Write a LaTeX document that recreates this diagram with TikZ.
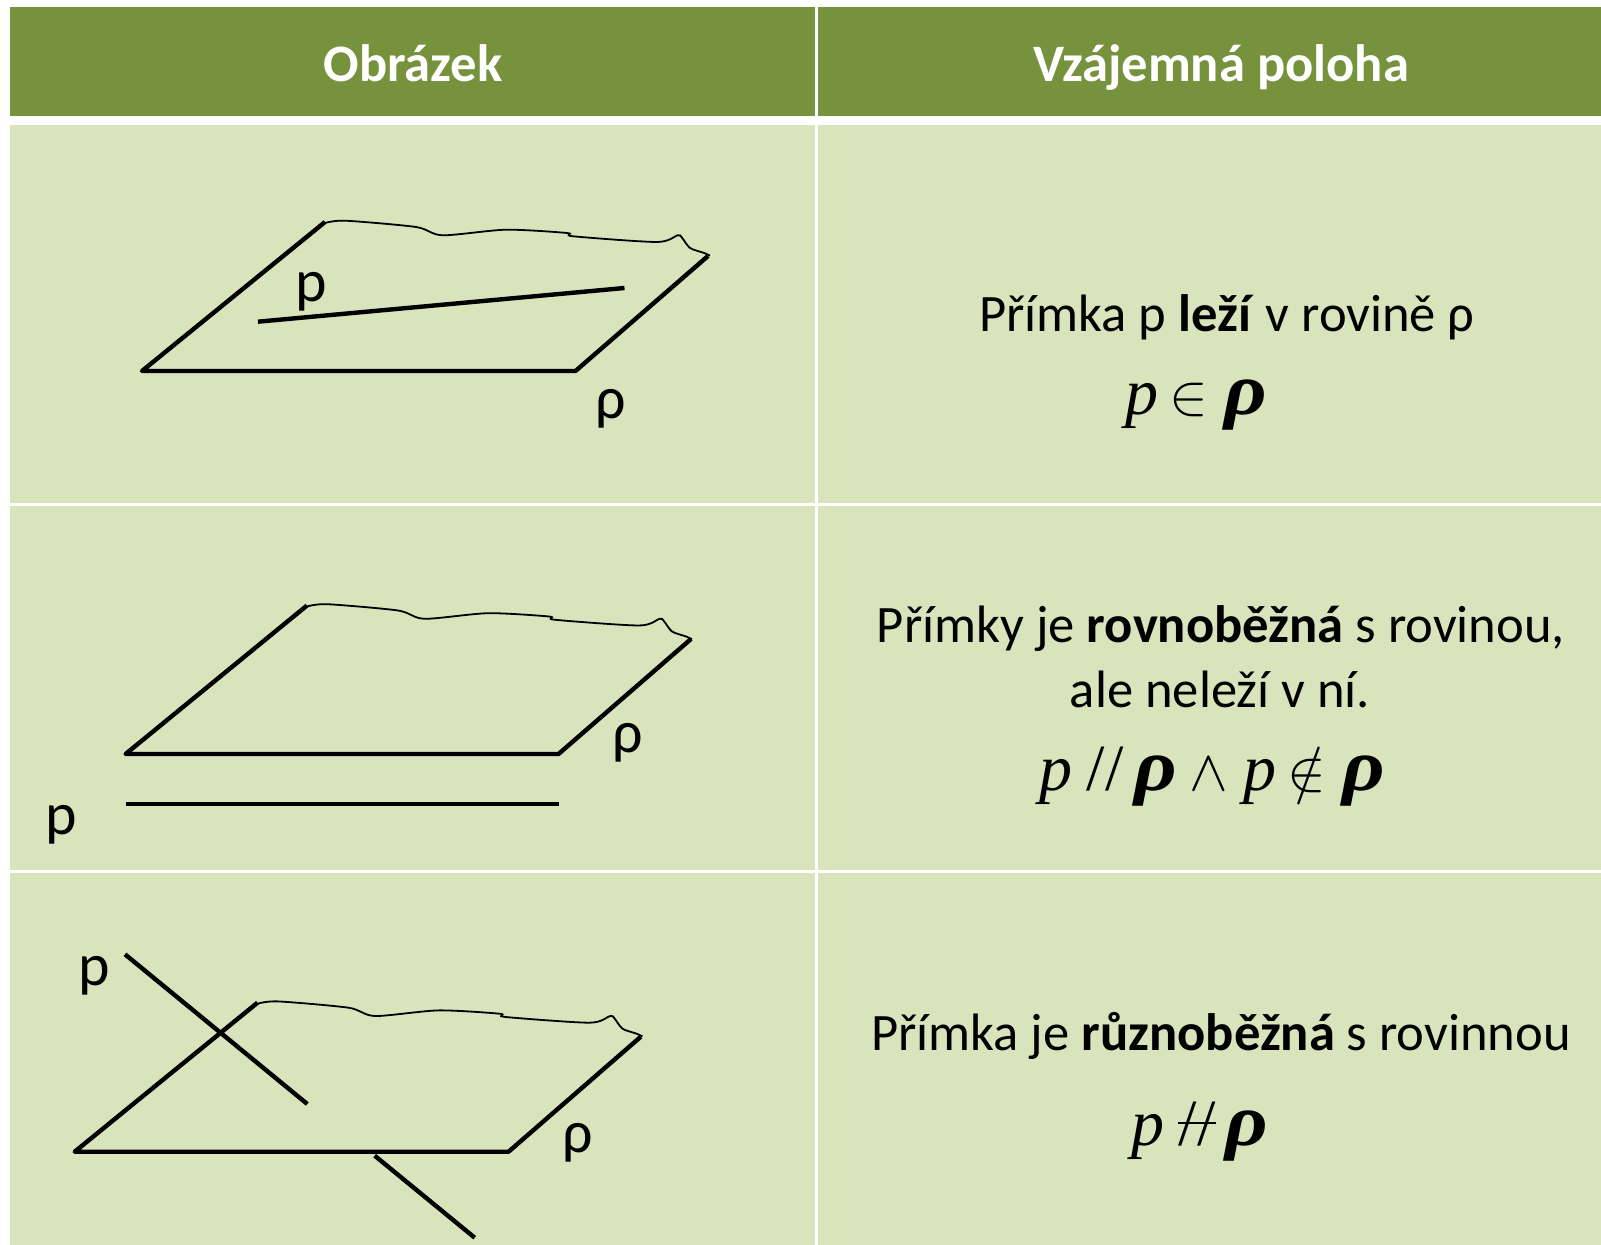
\documentclass[tikz,border=0pt]{standalone}
\usepackage{fontspec}
\setmainfont{Carlito}
\newfontfamily\serifit{Liberation Serif}
\definecolor{headgreen}{HTML}{76923C}
\definecolor{cellgreen}{HTML}{D8E4BC}
\tikzset{
  cellbox/.style={fill=cellgreen,draw=none},
  headbox/.style={fill=headgreen,draw=none},
  heavy/.style={line width=2.2pt,black,line join=round},
  wavy/.style={line width=0.9pt,black},
  headtext/.style={font=\fontsize{26.3}{30}\selectfont\bfseries,text=white,anchor=base},
  bodytext/.style={font=\fontsize{26.3}{32}\selectfont,anchor=base},
  lab/.style={font=\fontsize{30}{32}\selectfont,anchor=base},
  formula/.style={anchor=base west,inner sep=0pt}
}
\newcommand{\vp}{{\fontsize{33}{36}\selectfont\serifit\itshape p}}
\newcommand{\vr}{\scalebox{1.12}[1]{\fontsize{37}{40}\selectfont\serifit\itshape\bfseries ρ}}
\newcommand{\symb}[1]{\scalebox{2.9}{$#1$}}
\newcommand{\slashes}{{\fontsize{33}{36}\selectfont\serifit /{}/}}
\newcommand{\cell}[2]{\makebox[#1pt][c]{#2}}
\newcommand{\wavyedge}[1]{
  \draw[wavy,shift={(#1)}] plot[smooth,tension=0.45] coordinates {(0,1)(20.4,-1.3)(91,5)(117.6,13.3)(181,7.7)(242,11)(248.2,14.3)(332,20)(352.6,13.3)(356.7,15.3)(365,26)(379.2,31)(385,33.7)};
}
\begin{document}
\begin{tikzpicture}[x=0.5pt,y=-0.5pt]
\useasboundingbox (0,0) rectangle (1601,1245);
% table
\fill[headbox] (10,7) rectangle (815,116);
\fill[headbox] (818,7) rectangle (1601,116);
\fill[cellbox] (10,125) rectangle (815,503);
\fill[cellbox] (818,125) rectangle (1601,503);
\fill[cellbox] (10,506) rectangle (815,870);
\fill[cellbox] (818,506) rectangle (1601,870);
\fill[cellbox] (10,873) rectangle (815,1245);
\fill[cellbox] (818,873) rectangle (1601,1245);
\node[headtext] (h1) at (413,82) {Obrázek};
\node[headtext] (h2) at (1221,82) {Vzájemná poloha};
% row 1
\coordinate (a1) at (142,371); \coordinate (b1) at (575.5,371); \coordinate (c1) at (708,256); \coordinate (d1) at (325,222);
\draw[heavy] (d1) -- (a1) -- (b1) -- (c1);
\wavyedge{325,222}
\coordinate (p1s) at (258,321.7); \coordinate (p1e) at (624.5,288);
\draw[heavy] (p1s) -- (p1e);
\node[lab] (lp1) at (311,302) {p};
\node[lab] (lr1) at (611,419) {ρ};
\node[bodytext] (t1) at (1227,332) {Přímka p \textbf{leží} v rovině ρ};
\node[formula] (f1) at (1117.7,415) {\cell{24}{\vp}\cell{23.2}{\symb{\in}}\cell{33.8}{\vr}};
% row 2
\coordinate (a2) at (125.6,754); \coordinate (b2) at (558.5,754); \coordinate (c2) at (691,639); \coordinate (d2) at (307,605.5);
\draw[heavy] (d2) -- (a2) -- (b2) -- (c2);
\wavyedge{307,605.5}
\coordinate (p2s) at (125.6,804); \coordinate (p2e) at (558.5,804);
\draw[heavy] (p2s) -- (p2e);
\node[lab] (lp2) at (61,834) {p};
\node[lab] (lr2) at (628,752) {ρ};
\node[bodytext] (t2) at (1221,643) {Přímky je \textbf{rovnoběžná} s rovinou,};
\node[bodytext] (t2b) at (1220,707) {ale neleží v ní.};
\node[formula] (f2) at (1031.7,790) {\cell{24}{\vp}\cell{25}{\slashes}\cell{26}{\vr}\cell{26.4}{\symb{\wedge}}\cell{24.6}{\vp}\cell{22.8}{\symb{\notin}}\cell{34.2}{\vr}};
% row 3
\coordinate (a3) at (74.7,1151.7); \coordinate (b3) at (508.6,1151.7); \coordinate (c3) at (640.8,1036.7); \coordinate (d3) at (257.5,1002.7);
\draw[heavy] (d3) -- (a3) -- (b3) -- (c3);
\wavyedge{257.5,1002.7}
\coordinate (p3s) at (125,954.3); \coordinate (p3e) at (307.3,1104);
\coordinate (p3t) at (374.7,1155.7); \coordinate (p3u) at (474.7,1237.7);
\draw[heavy] (p3s) -- (p3e);
\draw[heavy] (p3t) -- (p3u);
\node[lab] (lp3) at (94,985) {p};
\node[lab] (lr3) at (578,1152) {ρ};
\node[bodytext] (t3) at (1221,1050) {Přímka je \textbf{různoběžná} s rovinnou};
\node[formula] (f3) at (1123.7,1145) {\cell{24}{\vp}\cell{25}{\makebox[0pt][c]{\slashes}\makebox[0pt][c]{\raisebox{10.5pt}{\rule{19pt}{0.9pt}}}}\cell{25.2}{\vr}};
\end{tikzpicture}
\end{document}
